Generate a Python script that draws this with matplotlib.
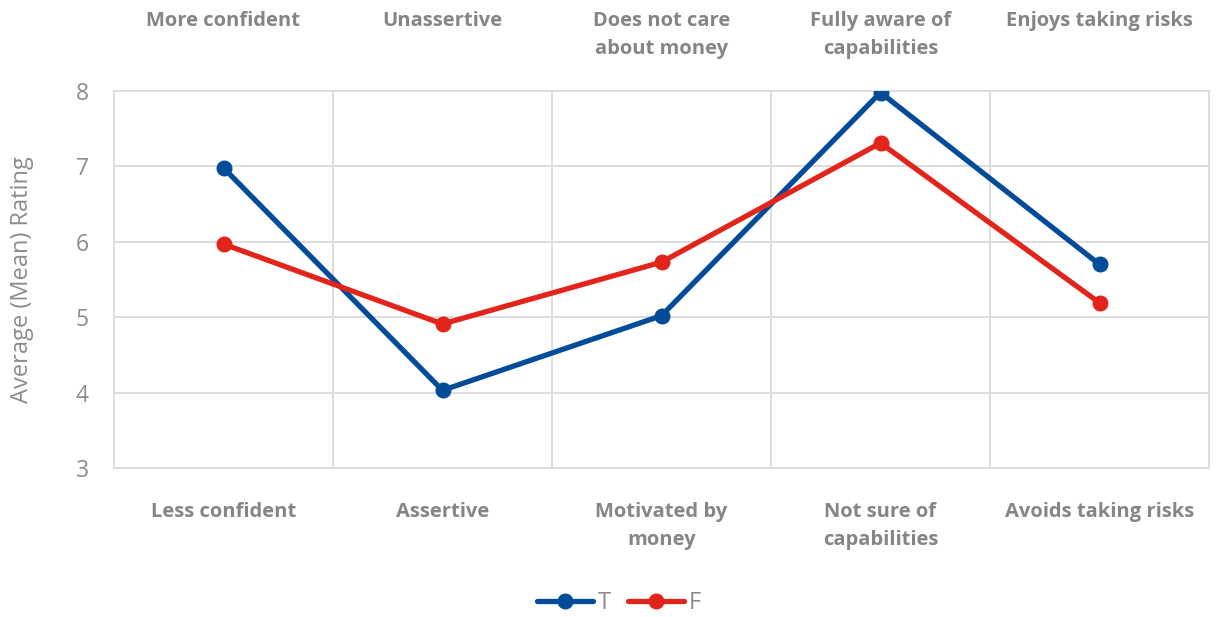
import matplotlib

matplotlib.use("Agg")
import matplotlib.pyplot as plt
from matplotlib.ticker import FixedLocator

plt.rcParams["font.family"] = ["Open Sans", "DejaVu Sans"]

# Semantic-differential pairs: high end (top) vs low end (bottom)
top_labels = ["More confident", "Unassertive", "Does not care\nabout money",
              "Fully aware of\ncapabilities", "Enjoys taking risks"]
bottom_labels = ["Less confident", "Assertive", "Motivated by\nmoney",
                 "Not sure of\ncapabilities", "Avoids taking risks"]
series_t = [6.98, 4.03, 5.02, 7.98, 5.70]
series_f = [5.97, 4.91, 5.73, 7.31, 5.19]

BLUE = "#004C99"
RED = "#E3241B"
GRID = "#DDDDDD"
TEXT = "#858585"
TICK = "#8C8C8C"

fig = plt.figure(figsize=(12.16, 6.17), dpi=100)
ax = fig.add_axes([114 / 1216, 1 - 468 / 617, 1095 / 1216, 377 / 617])

xs = list(range(len(top_labels)))
ax.plot(xs, series_t, color=BLUE, lw=3.8, marker="o", ms=10.5, label="T",
        solid_capstyle="round", zorder=3)
ax.plot(xs, series_f, color=RED, lw=3.8, marker="o", ms=10.5, label="F",
        solid_capstyle="round", zorder=3)

ax.set_xlim(-0.5, len(xs) - 0.5)
ax.set_ylim(3, 8)
ax.set_yticks([3, 4, 5, 6, 7, 8])
ax.xaxis.set_major_locator(FixedLocator([i + 0.5 for i in xs[:-1]]))
ax.tick_params(axis="x", length=0, labelbottom=False)
ax.tick_params(axis="y", length=0, labelsize=16.5, labelcolor=TICK, pad=18)
ax.grid(True, color=GRID, lw=1.4)
ax.set_axisbelow(True)
for sp in ax.spines.values():
    sp.set_color(GRID)
    sp.set_linewidth(1.4)

ax.set_ylabel("Average (Mean) Rating", fontsize=17, color=TICK, labelpad=30)

# Pole labels above and below each category column
trans = ax.get_xaxis_transform()
for x, lab in zip(xs, top_labels):
    ax.text(x, 1.213, lab, transform=trans, ha="center", va="top",
            fontsize=14.5, fontweight="bold", color=TEXT, linespacing=1.55)
for x, lab in zip(xs, bottom_labels):
    ax.text(x, -0.09, lab, transform=trans, ha="center", va="top",
            fontsize=14.5, fontweight="bold", color=TEXT, linespacing=1.55)

leg = fig.legend(loc="center", bbox_to_anchor=(0.509, 1 - 603 / 617),
                 ncol=2, frameon=False, fontsize=17, handlelength=2.4,
                 columnspacing=0.7, handletextpad=0.2)
for t in leg.get_texts():
    t.set_color(TICK)

fig.savefig("out.png", dpi=100)
